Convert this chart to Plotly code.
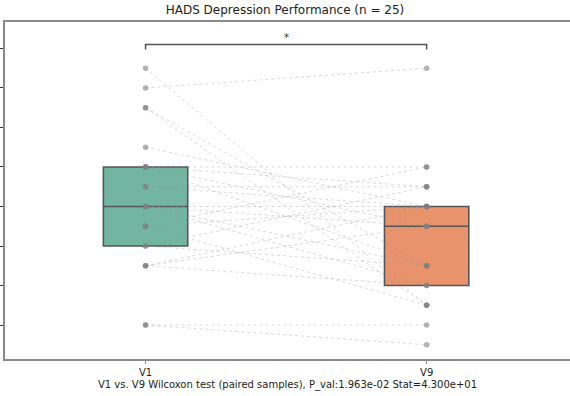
import numpy as np
import plotly.graph_objects as go

# ---- data ----
groups = ["V1", "V9"]
v1_scores = [15, 14, 13, 13, 11, 10, 10, 10, 10, 9, 9, 8, 8, 8, 8, 7, 7, 7, 6, 6, 5, 5, 5, 2, 2]
v9_scores = [3, 15, 5, 3, 8, 10, 9, 5, 7, 8, 9, 7, 8, 5, 4, 10, 8, 3, 9, 5, 8, 4, 7, 2, 1]
y_ticks = [2, 4, 6, 8, 10, 12, 14, 16]
title_text = "HADS Depression Performance (n = 25)"
xlabel_text = "V1 vs. V9 Wilcoxon test (paired samples), P_val:1.963e-02 Stat=4.300e+01"
sig_text = "*"

box_colors = ["#72b6a1", "#e8936c"]
edge_color = "#555555"

fig = go.Figure()

# boxes (no whiskers)
for i, (name, vals) in enumerate(zip(groups, [v1_scores, v9_scores])):
    q1, med, q3 = np.percentile(vals, [25, 50, 75])
    fig.add_trace(go.Box(
        x=[i], q1=[q1], median=[med], q3=[q3], lowerfence=[q1], upperfence=[q3],
        width=0.3, fillcolor=box_colors[i], line=dict(color=edge_color, width=1.6),
        boxpoints=False, showlegend=False, hoverinfo="skip"))

# paired lines
for a, b in zip(v1_scores, v9_scores):
    fig.add_trace(go.Scatter(
        x=[0, 1], y=[a, b], mode="lines",
        line=dict(color="rgba(150,150,150,0.5)", width=0.7, dash="dot"),
        showlegend=False, hoverinfo="skip"))

# points
for i, vals in enumerate([v1_scores, v9_scores]):
    fig.add_trace(go.Scatter(
        x=[i] * len(vals), y=vals, mode="markers",
        marker=dict(color="rgba(128,128,128,0.6)", size=5.5, line=dict(width=0)),
        showlegend=False, hoverinfo="skip"))

# significance bracket
top = max(max(v1_scores), max(v9_scores))
y_br = top + 1.2
fig.add_trace(go.Scatter(
    x=[0, 0, 1, 1], y=[y_br - 0.25, y_br, y_br, y_br - 0.25], mode="lines",
    line=dict(color="#555555", width=1.5), showlegend=False, hoverinfo="skip"))
fig.add_annotation(x=0.5, y=y_br + 0.35, text=sig_text, showarrow=False,
                   yanchor="middle", font=dict(size=10, color="#333333"))

fig.update_layout(
    width=570, height=396,
    margin=dict(l=5, r=0, t=22, b=37),
    plot_bgcolor="white", paper_bgcolor="white",
    font=dict(family="DejaVu Sans", color="#222222"),
    title=dict(text=title_text, x=0.5, xanchor="center", y=0.985, yanchor="top",
               font=dict(size=12, color="#222222")),
    xaxis=dict(range=[-0.5, 1.51], tickmode="array", tickvals=[0, 1], ticktext=groups,
               showline=True, mirror=True, linecolor="#888888", linewidth=1.5,
               ticks="outside", ticklen=3, tickcolor="#888888", showgrid=False,
               zeroline=False, tickfont=dict(size=10),
               title=dict(text=xlabel_text, font=dict(size=10), standoff=4)),
    yaxis=dict(range=[0.28, 17.34], tickmode="array", tickvals=y_ticks,
               showticklabels=False, showline=True, linecolor="#888888", linewidth=1.5,
               ticks="outside", ticklen=4, tickcolor="#333333", showgrid=False,
               zeroline=False),
)

fig.write_html("out.html")
